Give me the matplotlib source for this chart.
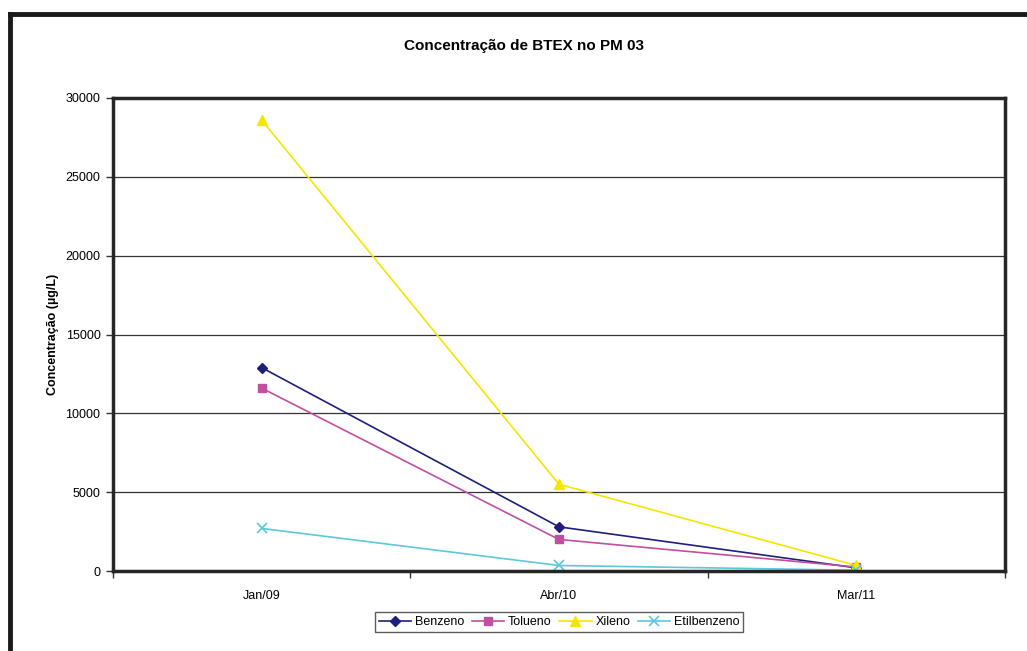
import matplotlib.pyplot as plt
from matplotlib.lines import Line2D
import numpy as np

plt.rcParams['font.family'] = ['Liberation Sans', 'DejaVu Sans']

# Campanhas de amostragem
campanhas = ['Jan/09', 'Abr/10', 'Mar/11']

# Concentrações (ug/L) por composto
benzeno = [12900, 2800, 200]
tolueno = [11600, 2000, 250]
xileno = [28600, 5500, 350]
etilbenzeno = [2700, 350, 50]

fig = plt.figure(figsize=(10.27, 6.51), dpi=100)
ax = fig.add_axes([113/1027, 1-571/651, (1005-113)/1027, (571-98)/651])

# moldura externa do gráfico (topo e lado esquerdo)
fig.add_artist(Line2D([10/1027, 1], [1-14/651, 1-14/651], color='#1a1a1a', lw=3.5,
                      transform=fig.transFigure))
fig.add_artist(Line2D([10/1027, 10/1027], [0, 1-14/651], color='#1a1a1a', lw=3.5,
                      transform=fig.transFigure))

x = np.arange(len(campanhas))
ax.plot(x, benzeno, color='#1f1f7a', marker='D', ms=5, lw=1.2, label='Benzeno')
ax.plot(x, tolueno, color='#c04fa0', marker='s', ms=6, lw=1.2, label='Tolueno')
ax.plot(x, xileno, color='#f5e600', marker='^', ms=7, lw=1.2, label='Xileno')
ax.plot(x, etilbenzeno, color='#5bc8dc', marker='x', ms=7, mew=1.2, lw=1.2, label='Etilbenzeno')

ax.set_xlim(-0.5, 2.5)
ax.set_ylim(0, 30000)
ax.set_yticks(np.arange(0, 30001, 5000))
ax.yaxis.grid(True, color='#333333', lw=0.9)
ax.set_axisbelow(True)

# rótulos das categorias no centro, ticks entre elas
ax.set_xticks(x)
ax.set_xticklabels(campanhas)
ax.set_xticks(np.arange(-0.5, 2.6, 1), minor=True)
ax.tick_params(axis='x', which='major', length=0, pad=14, labelsize=9)
ax.tick_params(axis='x', which='minor', length=5, width=1, direction='out', color='#333333')
ax.tick_params(axis='y', length=5, width=1, direction='out', color='#333333', labelsize=9, pad=4)

for s in ax.spines.values():
    s.set_linewidth(2.5)
    s.set_color('#262626')

ax.set_ylabel('Concentração (µg/L)', fontsize=9, fontweight='bold', labelpad=5)
fig.text(0.51, 1-46/651, 'Concentração de BTEX no PM 03', ha='center', va='center',
         fontsize=11, fontweight='bold')

leg = ax.legend(loc='upper center', bbox_to_anchor=(0.5, -0.087), ncol=4, frameon=True,
                fancybox=False, fontsize=9, handlelength=2.6, handletextpad=0.3,
                columnspacing=0.6, borderpad=0.3, borderaxespad=0)
leg.get_frame().set_edgecolor('#333333')
leg.get_frame().set_linewidth(1)

fig.savefig('out.png', dpi=100)
